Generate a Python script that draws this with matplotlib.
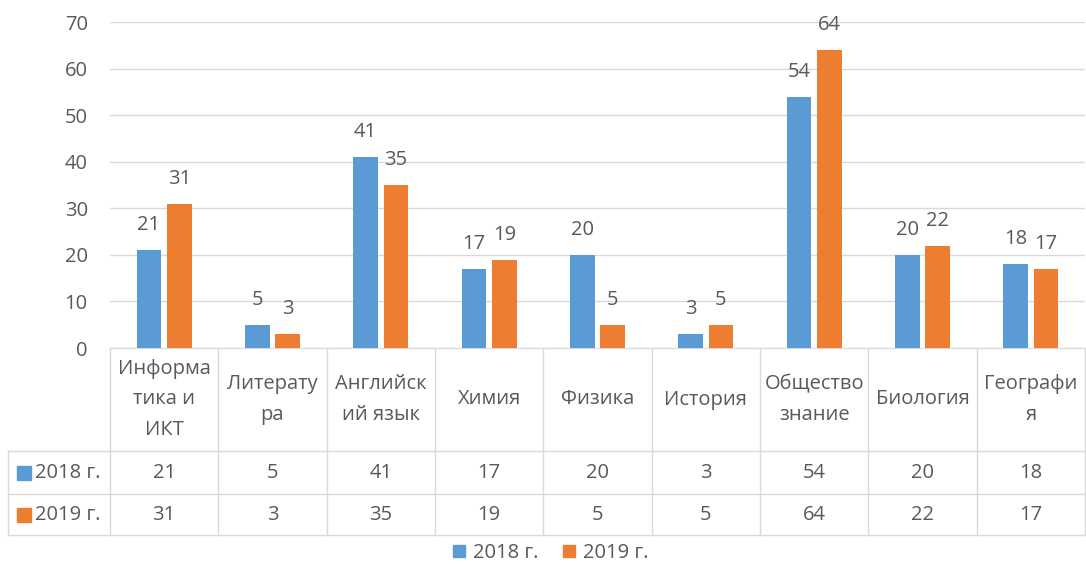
import numpy as np
import matplotlib
matplotlib.use("Agg")
from matplotlib import pyplot as plt
from matplotlib.transforms import blended_transform_factory
from matplotlib.patches import Patch

categories = ["Информа\nтика и\nИКТ", "Литерату\nра", "Английск\nий язык", "Химия", "Физика",
              "История", "Общество\nзнание", "Биология", "Географи\nя"]
series_names = ["2018 г.", "2019 г."]
vals_2018 = [21, 5, 41, 17, 20, 3, 54, 20, 18]
vals_2019 = [31, 3, 35, 19, 5, 5, 64, 22, 17]
y_ticks = [0, 10, 20, 30, 40, 50, 60, 70]

plt.rcParams['font.family'] = ['Open Sans', 'DejaVu Sans']
blue = "#5B9BD5"
orange = "#ED7D31"
txt = "#595959"
grid = "#D9D9D9"
fs = 14.5

W, H = 1086, 569
fig = plt.figure(figsize=(W/100, H/100), dpi=100)
ax = fig.add_axes([110/W, 1-348/H, 975/W, 326/H])

x = np.arange(len(categories))
bw = 0.23
gap = 0.025
b1 = ax.bar(x - bw/2 - gap, vals_2018, bw, color=blue, zorder=3)
b2 = ax.bar(x + bw/2 + gap, vals_2019, bw, color=orange, zorder=3)

for bars, vals in [(b1, vals_2018), (b2, vals_2019)]:
    for r, v in zip(bars, vals):
        ax.annotate(str(v), (r.get_x() + r.get_width()/2, v), xytext=(0, 18),
                    textcoords="offset points", ha="center", va="center",
                    fontsize=fs, color=txt)

ax.set_xlim(-0.5, len(categories) - 0.5)
ax.set_ylim(0, 70)
ax.set_yticks(y_ticks)
ax.tick_params(axis="y", length=0, pad=16, labelsize=fs, labelcolor=txt)
ax.set_xticks([])
ax.yaxis.grid(True, color=grid, linewidth=1)
ax.set_axisbelow(True)
for s in ["top", "right", "left"]:
    ax.spines[s].set_visible(False)
ax.spines["bottom"].set_color(grid)

# data table under the chart
tr = blended_transform_factory(ax.transData, fig.transFigure)
cat_px = 975/len(categories)
left_edge = -0.5 - 102/cat_px
y_top = 1 - 348/H
y_h = 1 - 451/H
y_r1 = 1 - 494/H
y_r2 = 1 - 535/H

for yy in [y_h, y_r1, y_r2]:
    ax.plot([left_edge, len(categories) - 0.5], [yy, yy], color=grid, lw=1,
            transform=tr, clip_on=False)
for i in range(len(categories) + 1):
    ax.plot([i - 0.5, i - 0.5], [y_top, y_r2], color=grid, lw=1,
            transform=tr, clip_on=False)
ax.plot([left_edge, left_edge], [y_h, y_r2], color=grid, lw=1, transform=tr, clip_on=False)

for i, c in enumerate(categories):
    ax.text(i, (y_top + y_h)/2, c, transform=tr, ha="center", va="center",
            fontsize=fs, color=txt, linespacing=1.7)
    ax.text(i, (y_h + y_r1)/2, str(vals_2018[i]), transform=tr, ha="center",
            va="center", fontsize=fs, color=txt)
    ax.text(i, (y_r1 + y_r2)/2, str(vals_2019[i]), transform=tr, ha="center",
            va="center", fontsize=fs, color=txt)

sq_x = -0.5 - (110 - 24)/cat_px
lab_x = -0.5 - (110 - 35)/cat_px
for name, col, yy in [(series_names[0], blue, (y_h + y_r1)/2),
                      (series_names[1], orange, (y_r1 + y_r2)/2)]:
    ax.plot([sq_x], [yy], marker="s", markersize=9.5, color=col, transform=tr, clip_on=False)
    ax.text(lab_x, yy, name, transform=tr, ha="left", va="center", fontsize=fs, color=txt)

handles = [Patch(color=blue, label=series_names[0]), Patch(color=orange, label=series_names[1])]
fig.legend(handles=handles, loc="center", bbox_to_anchor=(551/W, 1 - 553/H), ncol=2,
           frameon=False, fontsize=fs, labelcolor=txt, handlelength=0.6,
           handleheight=0.6, handletextpad=0.4, columnspacing=1.2)

fig.savefig("out.png", dpi=100)
